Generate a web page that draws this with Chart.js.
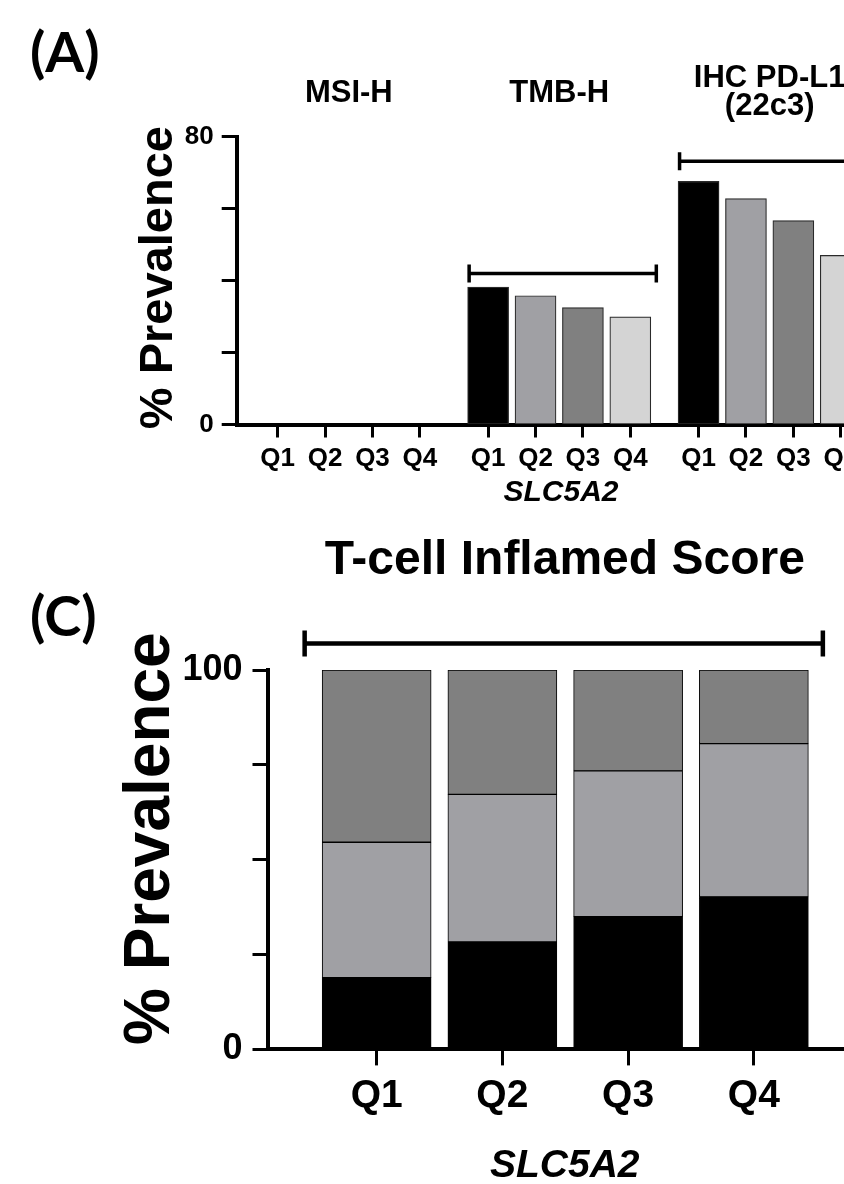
<!DOCTYPE html>
<html>
<head>
<meta charset="utf-8">
<script src="https://cdn.jsdelivr.net/npm/chart.js@4.4.1/dist/chart.umd.min.js"></script>
<style>
  html, body { margin: 0; padding: 0; background: #fff; overflow: hidden; }
  body { width: 844px; height: 1184px; position: relative; }
  canvas { position: absolute; left: 0; }
  .panel-tag {
    position: absolute; z-index: 2; color: #000;
    font-family: Lato, "Open Sans", sans-serif; font-weight: 700;
    font-size: 56px; line-height: 1;
  }
</style>
</head>
<body>
<div class="panel-tag" style="left:30px; top:23px;">(A)</div>
<canvas id="chartA" width="900" height="520" style="top:0"></canvas>
<div class="panel-tag" style="left:30px; top:587px;">(C)</div>
<canvas id="chartC" width="870" height="672" style="top:520px"></canvas>
<script>
// Datos (% prevalencia por cuartil de SLC5A2)
const quartiles = ['Q1', 'Q2', 'Q3', 'Q4'];
const biomarkers = [['MSI-H'], ['TMB-H'], ['IHC PD-L1', '(22c3)']];
const msiH = [0, 0, 0, 0];
const tmbH = [38.2, 35.8, 32.5, 29.9];
const pdl1 = [67.6, 62.8, 56.7, 47.0];
const yLabelsA = [0, 80];

// T-cell Inflamed Score (barras apiladas)
const tcellInflamed = [18.9, 28.3, 35.0, 40.2];
const tcellIntermediate = [35.7, 38.9, 38.4, 40.4];
const tcellNonInflamed = [45.4, 32.8, 26.6, 19.4];
const yLabelsC = [0, 100];

// Corchetes: grupo y altura en unidades del eje
const bracketsA = [{ group: 1, level: 42.0 }, { group: 2, level: 73.2 }];
const bracketC = { from: 0, to: 3, level: 107.0 };

const quartileColors = ['#000000', '#a0a0a4', '#808080', '#d4d4d4'];
const FONT = '"Liberation Sans", Arial, sans-serif';
const GROUP_STEP = 4.44; // separación entre grupos (en anchos de barra)

Chart.defaults.font.family = FONT;
Chart.defaults.color = '#000';

const posA = (g, q) => g * GROUP_STEP + q;

const seriesA = [msiH, tmbH, pdl1];
const dataA = [];
seriesA.forEach((vals, g) => vals.forEach((v, q) => dataA.push({ x: posA(g, q), y: v })));

function axisGrid(len) {
    return { offset: false, drawOnChartArea: false, drawTicks: true, tickLength: len, tickWidth: 3, tickColor: '#000' };
}
const axisBorder = { display: true, color: '#000', width: 4 };

function drawBracket(ctx, x1, x2, yy, cap, width) {
    ctx.lineWidth = width;
    ctx.beginPath();
    ctx.moveTo(x1, yy); ctx.lineTo(x2, yy);
    ctx.moveTo(x1, yy - cap); ctx.lineTo(x1, yy + cap);
    ctx.moveTo(x2, yy - cap); ctx.lineTo(x2, yy + cap);
    ctx.stroke();
}

function drawYTitle(ctx, text, bx, cy, size) {
    ctx.save();
    ctx.translate(bx, cy);
    ctx.rotate(-Math.PI / 2);
    ctx.font = `bold ${size}px ${FONT}`;
    ctx.textAlign = 'center';
    ctx.textBaseline = 'alphabetic';
    ctx.fillText(text, 0, 0);
    ctx.restore();
}

// Decoración del panel A: títulos de grupo, corchetes y título del eje Y
const decorA = {
    id: 'decorA',
    afterDraw(chart) {
        const { ctx, chartArea, scales: { x, y } } = chart;
        ctx.save();
        ctx.fillStyle = '#000';
        ctx.strokeStyle = '#000';
        ctx.font = `bold 31px ${FONT}`;
        ctx.textAlign = 'center';
        ctx.textBaseline = 'alphabetic';
        const rowY = chartArea.top - 35;
        biomarkers.forEach((lines, g) => {
            const cx = (x.getPixelForValue(posA(g, 0)) + x.getPixelForValue(posA(g, 3))) / 2;
            const base = rowY - (lines.length - 1) * 15;
            lines.forEach((t, k) => ctx.fillText(t, cx, base + k * 28));
        });
        bracketsA.forEach(b => {
            const x1 = x.getPixelForValue(posA(b.group, 0)) - 19;
            const x2 = x.getPixelForValue(posA(b.group, 3)) + 26;
            drawBracket(ctx, x1, x2, y.getPixelForValue(b.level), 9, 3.5);
        });
        drawYTitle(ctx, '% Prevalence', chartArea.left - 65, (chartArea.top + chartArea.bottom) / 2 - 3, 47);
        ctx.restore();
    }
};

// Decoración del panel C
const decorC = {
    id: 'decorC',
    afterDraw(chart) {
        const { ctx, chartArea, scales: { x, y } } = chart;
        ctx.save();
        ctx.fillStyle = '#000';
        ctx.strokeStyle = '#000';
        const x1 = x.getPixelForValue(bracketC.from) - 72;
        const x2 = x.getPixelForValue(bracketC.to) + 69;
        drawBracket(ctx, x1, x2, y.getPixelForValue(bracketC.level), 13, 4.5);
        drawYTitle(ctx, '% Prevalence', chartArea.left - 99, (chartArea.top + chartArea.bottom) / 2 - 21, 64);
        ctx.restore();
    }
};

new Chart(document.getElementById('chartA'), {
    type: 'bar',
    data: {
        datasets: [{
            label: '% Prevalence',
            data: dataA,
            backgroundColor: dataA.map((_, i) => quartileColors[i % 4]),
            borderColor: '#2a2a2a',
            borderWidth: 1.2,
            borderSkipped: false,
            barThickness: 41
        }]
    },
    options: {
        responsive: false,
        animation: false,
        layout: { padding: { top: 136.7, right: 14.7, bottom: 9.5, left: 0 } },
        plugins: { legend: { display: false }, tooltip: { enabled: false } },
        scales: {
            x: {
                type: 'linear',
                offset: false,
                min: -0.865,
                max: 12.82,
                afterBuildTicks: s => { s.ticks = dataA.map(d => ({ value: d.x })); },
                ticks: {
                    autoSkip: false, maxRotation: 0, padding: 6,
                    font: { size: 26, weight: 'bold' },
                    callback: (v, i) => quartiles[i % 4]
                },
                grid: axisGrid(13),
                border: axisBorder,
                title: { display: true, text: 'SLC5A2', padding: 0, font: { size: 30, weight: 'bold', style: 'italic' } },
                afterFit: s => { s.height = 86; }
            },
            y: {
                min: 0,
                max: 80,
                ticks: {
                    stepSize: 20, padding: 8,
                    font: { size: 26, weight: 'bold' },
                    callback: v => yLabelsA.includes(v) ? v : ''
                },
                grid: axisGrid(15),
                border: axisBorder,
                afterFit: s => { s.width = 236.7; }
            }
        }
    },
    plugins: [decorA]
});

const stackC = [
    { label: 'Inflamed', values: tcellInflamed, color: '#000000' },
    { label: 'Intermediate', values: tcellIntermediate, color: '#a0a0a4' },
    { label: 'Non-inflamed', values: tcellNonInflamed, color: '#808080' }
];

new Chart(document.getElementById('chartC'), {
    type: 'bar',
    data: {
        datasets: stackC.map(s => ({
            label: s.label,
            data: s.values.map((v, i) => ({ x: i, y: v })),
            backgroundColor: s.color,
            borderColor: '#000',
            borderWidth: 1,
            borderSkipped: false,
            barThickness: 109
        }))
    },
    options: {
        responsive: false,
        animation: false,
        layout: { padding: { top: 0, right: 8, bottom: 2.6, left: 0 } },
        plugins: {
            legend: { display: false },
            tooltip: { enabled: false },
            title: {
                display: true,
                text: 'T-cell Inflamed Score',
                fullSize: false,
                color: '#000',
                font: { size: 48, weight: 'bold' },
                padding: { top: 12, bottom: 80.4 }
            }
        },
        scales: {
            x: {
                type: 'linear',
                stacked: true,
                offset: false,
                min: -0.868,
                max: 3.86,
                afterBuildTicks: s => { s.ticks = quartiles.map((_, i) => ({ value: i })); },
                ticks: {
                    autoSkip: false, maxRotation: 0, padding: 7,
                    font: { size: 39, weight: 'bold' },
                    callback: (v, i) => quartiles[i]
                },
                grid: axisGrid(16),
                border: axisBorder,
                title: { display: true, text: 'SLC5A2', padding: 0, font: { size: 39, weight: 'bold', style: 'italic' } },
                afterFit: s => { s.height = 140; }
            },
            y: {
                stacked: true,
                min: 0,
                max: 100,
                ticks: {
                    stepSize: 25, padding: 10,
                    font: { size: 36, weight: 'bold' },
                    callback: v => yLabelsC.includes(v) ? v : ''
                },
                grid: axisGrid(15),
                border: axisBorder,
                afterFit: s => { s.width = 267.5; }
            }
        }
    },
    plugins: [decorC]
});
</script>
</body>
</html>
